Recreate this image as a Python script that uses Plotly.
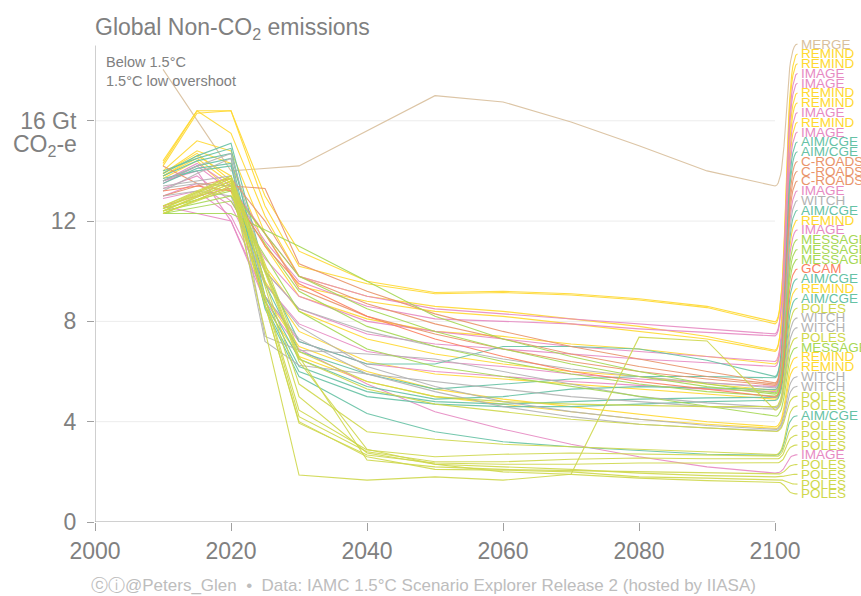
import numpy as np
import plotly.graph_objects as go

# Time grids used by the scenario runs
YEARS_FIVE = [2010, 2015, 2020, 2025, 2030, 2040, 2050, 2060, 2070, 2080, 2090, 2100]
YEARS_DECADE = [2010, 2020, 2030, 2040, 2050, 2060, 2070, 2080, 2090, 2100]

# Non-CO2 emissions (Gt CO2-e) per scenario, grouped by model
merge_runs = [
    [18.05, 14.0, 14.2, 15.6, 17.0, 16.75, 15.95, 15.0, 14.0, 13.4],
]
remind_runs = [
    [14.3, 16.4, 16.4, 13.0, 10.8, 9.6, 9.15, 9.2, 9.1, 8.9, 8.6, 7.98],
    [14.2, 16.3, 16.4, 12.6, 10.2, 9.5, 9.1, 9.15, 9.05, 8.85, 8.55, 7.9],
    [14.4, 16.4, 15.5, 12.2, 9.8, 9.0, 8.6, 8.4, 8.1, 7.8, 7.4, 6.85],
    [14.0, 15.2, 14.8, 11.5, 9.4, 8.8, 8.4, 8.2, 7.9, 7.6, 7.3, 6.8],
    [13.9, 14.8, 14.3, 11.0, 9.0, 8.1, 7.6, 7.4, 7.1, 6.9, 6.6, 6.3],
    [13.8, 14.6, 13.8, 10.2, 8.4, 7.3, 6.7, 6.3, 6.0, 5.8, 5.5, 5.25],
    [13.8, 14.5, 13.5, 9.6, 7.6, 6.4, 5.9, 5.7, 5.5, 5.3, 5.1, 4.9],
    [13.9, 14.7, 13.6, 9.0, 7.0, 6.0, 5.3, 4.9, 4.6, 4.3, 4.0, 3.8],
    [13.7, 14.4, 13.2, 8.6, 6.6, 5.6, 5.0, 4.7, 4.4, 4.1, 3.9, 3.72],
]
image_runs = [
    [13.6, 14.3, 13.4, 11.5, 9.8, 9.0, 8.5, 8.3, 8.1, 7.9, 7.7, 7.5],
    [13.5, 14.2, 13.2, 11.2, 9.6, 8.6, 8.1, 8.0, 7.9, 7.7, 7.55, 7.42],
    [13.3, 13.8, 12.8, 10.5, 9.0, 8.0, 7.6, 7.3, 7.0, 6.8, 6.6, 6.4],
    [13.0, 13.5, 12.6, 10.0, 8.5, 7.5, 7.1, 6.9, 6.7, 6.5, 6.35, 6.2],
    [12.9, 13.2, 12.2, 9.5, 7.9, 6.8, 6.4, 6.2, 5.9, 5.7, 5.55, 5.4],
    [13.6, 14.0, 12.0, 9.0, 7.2, 6.3, 6.0, 5.8, 5.6, 5.45, 5.3, 5.2],
    [12.6, 12.3, 12.0, 8.8, 6.9, 5.5, 4.4, 3.7, 3.1, 2.6, 2.2, 1.95],
]
aim_runs = [
    [13.9, 14.6, 15.1, 10.0, 7.2, 6.3, 6.3, 7.0, 7.0, 6.9, 6.45, 5.8],
    [13.8, 14.4, 14.7, 9.5, 6.8, 5.9, 5.3, 5.5, 5.7, 5.8, 5.8, 5.75],
    [14.0, 14.5, 14.9, 9.0, 6.5, 5.4, 4.9, 5.0, 5.3, 5.4, 5.35, 5.28],
    [13.6, 14.2, 14.5, 8.8, 6.2, 5.2, 4.8, 4.7, 4.8, 4.9, 4.95, 4.95],
    [13.5, 14.1, 14.3, 8.6, 6.0, 5.0, 4.7, 4.6, 4.6, 4.7, 4.8, 4.85],
    [13.7, 14.0, 14.2, 8.5, 5.8, 4.33, 3.6, 3.2, 3.0, 2.85, 2.7, 2.66],
]
croads_runs = [
    [14.2, 13.5, 13.4, 13.3, 10.3, 9.2, 8.3, 7.6, 7.0, 6.5, 6.0, 5.55],
    [13.0, 13.4, 13.7, 12.0, 9.8, 8.7, 7.9, 7.3, 6.7, 6.2, 5.8, 5.5],
    [12.6, 13.0, 13.3, 11.5, 9.3, 8.2, 7.5, 6.9, 6.4, 6.0, 5.7, 5.45],
]
witch_runs = [
    [13.6, 14.2, 14.7, 10.0, 8.5, 7.6, 7.0, 6.5, 6.1, 5.8, 5.55, 5.35],
    [13.2, 13.9, 14.5, 7.4, 6.85, 6.7, 6.5, 6.0, 5.5, 5.0, 4.75, 4.55],
    [13.4, 13.6, 13.8, 7.2, 6.25, 5.9, 5.6, 5.3, 5.0, 4.8, 4.6, 4.5],
    [13.0, 13.2, 13.0, 9.5, 7.8, 6.2, 5.4, 4.8, 4.4, 4.1, 3.85, 3.68],
    [13.3, 13.5, 13.4, 9.0, 7.3, 5.9, 5.2, 4.6, 4.2, 3.9, 3.75, 3.62],
]
message_runs = [
    [12.3, 12.3, 11.0, 9.6, 8.2, 7.3, 6.6, 6.0, 5.5, 5.15],
    [12.5, 13.2, 9.8, 8.5, 7.6, 6.9, 6.3, 5.8, 5.4, 5.1],
    [12.4, 13.0, 9.2, 7.8, 7.0, 6.4, 5.9, 5.5, 5.2, 5.02],
    [12.3, 12.8, 8.4, 6.9, 6.2, 5.8, 5.4, 5.0, 4.6, 4.2],
]
gcam_runs = [
    [13.2, 13.4, 13.2, 11.0, 9.5, 8.2, 7.3, 6.6, 6.0, 5.6, 5.3, 4.98],
]
poles_runs = [
    [12.5, 13.8, 6.8, 5.6, 5.0, 4.8, 4.7, 4.65, 4.6, 4.6],
    [12.3, 13.4, 1.87, 1.67, 1.8, 1.67, 1.9, 7.37, 7.22, 4.46],
    [12.4, 13.6, 6.5, 5.3, 4.7, 4.4, 4.1, 3.9, 3.75, 3.6],
    [12.6, 13.7, 5.5, 3.6, 3.3, 3.1, 3.0, 2.9, 2.8, 2.68],
    [12.4, 13.5, 4.46, 2.87, 2.6, 2.7, 2.75, 2.7, 2.65, 2.6],
    [12.5, 13.6, 4.2, 2.8, 2.4, 2.4, 2.5, 2.55, 2.52, 2.5],
    [12.3, 13.4, 3.94, 2.67, 2.35, 2.3, 2.3, 2.35, 2.35, 2.35],
    [12.5, 13.7, 6.6, 2.47, 2.2, 2.1, 2.05, 2.0, 1.95, 1.9],
    [12.4, 13.5, 6.4, 2.9, 2.3, 2.2, 2.1, 1.95, 1.85, 1.8],
    [12.3, 13.3, 4.0, 2.6, 2.1, 2.07, 2.0, 1.8, 1.75, 1.7],
    [12.6, 13.8, 5.0, 2.75, 2.3, 2.0, 1.9, 1.75, 1.65, 1.6],
]

# Model -> (runs, time grid, colour)
models = [
    ("MERGE", merge_runs, YEARS_DECADE, "#d9bf9c"),
    ("REMIND", remind_runs, YEARS_FIVE, "#ffd92f"),
    ("IMAGE", image_runs, YEARS_FIVE, "#e78ac3"),
    ("AIM/CGE", aim_runs, YEARS_FIVE, "#66c2a5"),
    ("C-ROADS", croads_runs, YEARS_FIVE, "#e9946a"),
    ("WITCH", witch_runs, YEARS_FIVE, "#b3b3b3"),
    ("MESSAGE", message_runs, YEARS_DECADE, "#a6d854"),
    ("GCAM", gcam_runs, YEARS_FIVE, "#fc8062"),
    ("POLES", poles_runs, YEARS_DECADE, "#cfd84c"),
]

Y_TICKS = [0, 4, 8, 12, 16]
Y_TICK_TEXT = ["0", "4", "8", "12", "16 Gt"]
X_TICKS = [2000, 2020, 2040, 2060, 2080, 2100]

TEXT_GREY = "#808080"
AXIS_GREY = "#a0a0a0"
FONT = "Liberation Sans, Arial, sans-serif"

Y_TOP = 19.3      # visible y range (labels sit up to ~19.1)
AXIS_TOP = 19.0   # where the y axis line stops

# Flatten into one list of scenarios
scenarios = []
for name, runs, years, color in models:
    for vals in runs:
        scenarios.append((name, years, vals, color))

# Direct labels on the right: ordered by the 2100 value, evenly stacked
order = sorted(range(len(scenarios)), key=lambda i: -scenarios[i][2][-1])
label_top, label_bottom = 19.06, 1.12
label_y = {}
for rank, idx in enumerate(order):
    label_y[idx] = label_top - rank * (label_top - label_bottom) / (len(order) - 1)

X_END = 2100.0
X_LABEL = 2103.3

fig = go.Figure()
t = np.linspace(0, 1, 24)
for i, (name, years, vals, color) in enumerate(scenarios):
    v = vals[-1]
    L = label_y[i]
    # cubic connector from the 2100 value to the label
    cx = [X_END, X_END + 2.0, X_END + 1.2, X_LABEL]
    cy = [v, v, L, L]
    bx = ((1 - t) ** 3) * cx[0] + 3 * ((1 - t) ** 2) * t * cx[1] + 3 * (1 - t) * t ** 2 * cx[2] + t ** 3 * cx[3]
    by = ((1 - t) ** 3) * cy[0] + 3 * ((1 - t) ** 2) * t * cy[1] + 3 * (1 - t) * t ** 2 * cy[2] + t ** 3 * cy[3]
    xs = list(years) + list(bx[1:])
    ys = list(vals) + list(by[1:])
    fig.add_trace(go.Scatter(
        x=xs, y=ys, mode="lines",
        line=dict(color=color, width=1.1),
        opacity=0.9, hoverinfo="skip", showlegend=False,
    ))
    fig.add_annotation(
        x=X_LABEL + 0.25, y=L, text=name, showarrow=False,
        xanchor="left", yanchor="middle",
        font=dict(family=FONT, size=13.5, color=color),
    )

# Horizontal gridlines stop at 2100
for yv in Y_TICKS[1:]:
    fig.add_shape(type="line", x0=2000, x1=2100, y0=yv, y1=yv, xref="x", yref="y",
                  line=dict(color="#ececec", width=1), layer="below")
# axis lines: x between 2000 and 2100, y from 0 to the top of the panel
fig.add_shape(type="line", x0=2000, x1=2100, y0=0, y1=0, xref="x", yref="y",
              line=dict(color=AXIS_GREY, width=1))
fig.add_shape(type="line", x0=2000, x1=2000, y0=0, y1=AXIS_TOP, xref="x", yref="y",
              line=dict(color=AXIS_GREY, width=1))

fig.add_annotation(
    xref="paper", yref="y", x=0, y=16, text="CO<sub>2</sub>-e", showarrow=False,
    xanchor="right", yanchor="middle", xshift=-16, yshift=-25,
    font=dict(family=FONT, size=23, color=TEXT_GREY),
)
fig.add_annotation(
    xref="paper", yref="paper", x=0, y=1, text="Global Non-CO<sub>2</sub> emissions",
    showarrow=False, xanchor="left", yanchor="middle", xshift=-2, yshift=10,
    font=dict(family=FONT, size=23, color=TEXT_GREY),
)
fig.add_annotation(
    xref="paper", yref="paper", x=0, y=1, text="Below 1.5°C", showarrow=False,
    xanchor="left", yanchor="middle", xshift=9, yshift=-24,
    font=dict(family=FONT, size=14.5, color=TEXT_GREY),
)
fig.add_annotation(
    xref="paper", yref="paper", x=0, y=1, text="1.5°C low overshoot", showarrow=False,
    xanchor="left", yanchor="middle", xshift=9, yshift=-43,
    font=dict(family=FONT, size=14.5, color=TEXT_GREY),
)
fig.add_annotation(
    xref="paper", yref="paper", x=0.4286, y=0,
    text="ⓒⓘ@Peters_Glen  •  Data: IAMC 1.5°C Scenario Explorer Release 2 (hosted by IIASA)",
    showarrow=False, xanchor="center", yanchor="middle", yshift=-63,
    font=dict(family=FONT, size=17, color="#bdbdbd"),
)

px_per_unit = 25.08
fig.update_layout(
    width=861, height=596,
    margin=dict(l=94.5, r=0, t=522 - Y_TOP * px_per_unit, b=74),
    paper_bgcolor="white", plot_bgcolor="white",
    font=dict(family=FONT, color=TEXT_GREY),
    xaxis=dict(
        range=[2000, 2000 + 766.5 / 6.805], tickvals=X_TICKS,
        ticks="outside", ticklen=8, tickcolor=AXIS_GREY,
        showgrid=False, zeroline=False, showline=False,
        tickfont=dict(family=FONT, size=23, color=TEXT_GREY),
    ),
    yaxis=dict(
        range=[0, Y_TOP], tickvals=Y_TICKS, ticktext=Y_TICK_TEXT,
        ticks="outside", ticklen=7, tickcolor=AXIS_GREY,
        showgrid=False, zeroline=False, showline=False,
        tickfont=dict(family=FONT, size=23, color=TEXT_GREY),
        ticklabelstandoff=6,
    ),
)

fig.write_html("out.html")
